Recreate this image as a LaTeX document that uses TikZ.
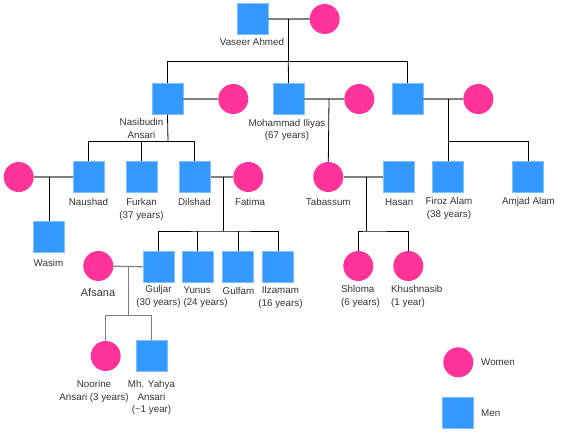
\documentclass[tikz,border=0pt]{standalone}
\usepackage{fontspec}
\setmainfont{Liberation Sans}
\definecolor{manblue}{HTML}{3399FF}
\definecolor{manedge}{HTML}{7FBFFF}
\definecolor{womanpink}{HTML}{FF3399}
\definecolor{txt}{HTML}{333333}
\definecolor{mline}{HTML}{808080}
\begin{document}
\begin{tikzpicture}[x=1pt,y=-1pt,
  man/.style={draw=manedge,line width=0.8pt,fill=manblue,minimum size=31pt,inner sep=0pt,rectangle},
  woman/.style={fill=womanpink,circle,minimum size=30pt,inner sep=0pt,draw=none},
  lbl/.style={text=txt,font=\fontsize{9.8}{12.5}\selectfont,align=center,inner sep=0pt},
  lbll/.style={lbl,align=left,anchor=west},
  marry/.style={draw=mline,line width=1.2pt},
  kin/.style={draw=black,line width=0.8pt}]
\useasboundingbox (0,0) rectangle (570,433);
% generation 1
\node[man] (vaseer) at (252.5,19) {};
\node[woman] (vw) at (324.7,19) {};
% generation 2
\node[man] (nasib) at (167.5,99) {};
\node[woman] (nw) at (233.3,99) {};
\node[man] (moh) at (288.5,99) {};
\node[woman] (mw) at (359.3,99) {};
\node[man] (third) at (407.5,99) {};
\node[woman] (tw) at (478.3,99) {};
% generation 3
\node[woman] (naushw) at (18.7,177) {};
\node[man] (naushad) at (88.5,177) {};
\node[man] (furkan) at (141.5,177) {};
\node[man] (dilshad) at (194.8,177) {};
\node[woman] (fatima) at (248.3,177) {};
\node[woman] (tabassum) at (328.3,177) {};
\node[man] (hasan) at (399.2,177) {};
\node[man] (firoz) at (448.3,177) {};
\node[man] (amjad) at (528.3,177) {};
% generation 4
\node[man] (wasim) at (49.3,237) {};
\node[woman] (afsana) at (98.3,266) {};
\node[man] (guljar) at (158.5,267) {};
\node[man] (yunus) at (197.7,267) {};
\node[man] (gulfam) at (238.3,267) {};
\node[man] (ilzamam) at (278.3,267) {};
\node[woman] (shloma) at (358.3,266) {};
\node[woman] (khush) at (408.3,266) {};
% generation 5
\node[woman] (noorine) at (105.7,356) {};
\node[man] (yahya) at (151.5,356) {};
% legend
\node[woman] (legw) at (458.3,362.3) {};
\node[man] (legm) at (458.3,412.7) {};
% junctions
\coordinate (j0) at (288.3,19);
\coordinate (b0) at (288.3,61.3);
\coordinate (b1) at (168,141.7);
\coordinate (j2) at (329,99);
\coordinate (j3) at (448.3,99);
\coordinate (b3) at (448.3,141.7);
\coordinate (j4) at (366.7,177);
\coordinate (b4) at (366.7,231);
\coordinate (j5) at (49.3,177);
\coordinate (j6) at (223.3,177);
\coordinate (b6) at (223.3,231);
\coordinate (j7) at (128.3,266);
\coordinate (b7) at (128.3,315.7);
% marriages
\draw[marry] (vaseer) -- (vw);
\draw[marry] (nasib) -- (nw);
\draw[marry] (moh) -- (mw);
\draw[marry] (third) -- (tw);
\draw[marry] (naushw) -- (naushad);
\draw[marry] (dilshad) -- (fatima);
\draw[marry] (tabassum) -- (hasan);
\draw[marry] (afsana) -- (guljar);
% descents
\draw[kin] (j0) -- (b0);
\draw[kin] (nasib.north) |- (b0) -| (third.north);
\draw[kin] (b0) -- (moh.north);
\draw[kin] (nasib.south) -- (b1);
\draw[kin] (naushad.north) |- (b1) -| (dilshad.north);
\draw[kin] (furkan.north) -- (furkan.north |- b1);
\draw[kin] (j2) -- (tabassum.north);
\draw[kin] (j3) -- (b3);
\draw[kin] (firoz.north) |- (b3) -| (amjad.north);
\draw[kin] (j4) -- (b4);
\draw[kin] (shloma.north) |- (b4) -| (khush.north);
\draw[kin] (j5) -- (wasim.north);
\draw[kin] (j6) -- (b6);
\draw[kin] (guljar.north) |- (b6) -| (ilzamam.north);
\draw[kin] (yunus.north) -- (yunus.north |- b6);
\draw[kin] (gulfam.north) -- (gulfam.north |- b6);
\draw[marry,line width=1pt] (j7) -- (b7);
\draw[marry,line width=1pt] (noorine.north) |- (b7) -| (yahya.north);
% labels
\node[lbl] (lvaseer) at (252,42) {Vaseer Ahmed};
\node[lbl] (lnasib) at (141.5,128.5) {Nasibudin\\Ansari};
\node[lbl] (lmoh) at (287,130) {Mohammad Iliyas\\(67 years)};
\node[lbl] (lnaush) at (88.5,202.3) {Naushad};
\node[lbl] (lfurkan) at (141.5,209.5) {Furkan\\(37 years)};
\node[lbl] (ldil) at (194.5,202.3) {Dilshad};
\node[lbl] (lfat) at (250,201.7) {Fatima};
\node[lbl] (ltab) at (328.3,201.7) {Tabassum};
\node[lbl] (lhas) at (399.2,201.7) {Hasan};
\node[lbl] (lfir) at (449,208.3) {Firoz Alam\\(38 years)};
\node[lbl] (lamj) at (528.5,202) {Amjad Alam};
\node[lbl] (lwas) at (48.5,262.7) {Wasim};
\node[lbl,font=\fontsize{11}{13}\selectfont] (lafs) at (98,292.3) {Afsana};
\node[lbl] (lgul) at (158.5,296.7) {Guljar\\(30 years)};
\node[lbll] (lyun) at (183.3,297.3) {Yunus\\(24 years)};
\node[lbl] (lgulf) at (238.5,291) {Gulfam};
\node[lbl] (lilz) at (280.5,297.3) {Ilzamam\\(16 years)};
\node[lbll] (lshl) at (341,296.7) {Shloma\\(6 years)};
\node[lbll] (lkhu) at (391,296.7) {Khushnasib\\(1 year)};
\node[lbl] (lnoor) at (94,391.7) {Noorine\\Ansari (3 years)};
\node[lbl] (lyah) at (151.5,397.8) {Mh. Yahya\\Ansari\\(\textasciitilde1 year)};
\node[lbll] (lwom) at (481,362.3) {Women};
\node[lbll] (lmen) at (481,412.7) {Men};
\end{tikzpicture}
\end{document}
